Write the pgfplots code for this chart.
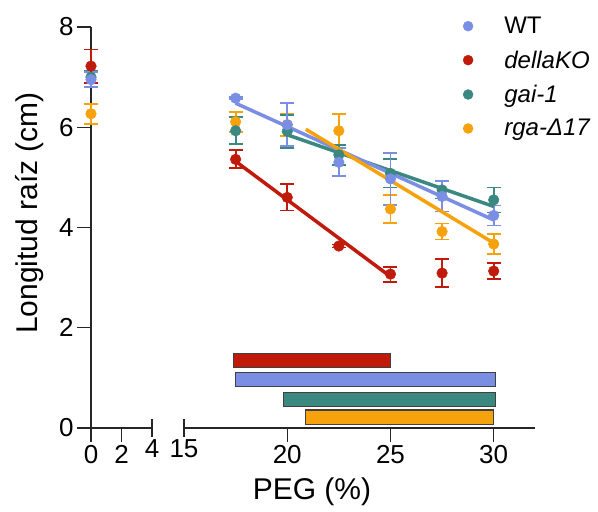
\documentclass[border=0pt]{standalone}
\usepackage{fontspec}
\setmainfont{Liberation Sans}
\usepackage{pgfplots}
\usepackage{pgfplotstable}
\pgfplotsset{compat=1.18}

\definecolor{wt}{RGB}{122,143,228}
\definecolor{ko}{RGB}{192,26,10}
\definecolor{gai}{RGB}{58,136,128}
\definecolor{rga}{RGB}{246,162,12}

% x = PEG (%), y = root length (cm), e = error
\pgfplotstableread{
x y e
0 6.95 0.15
}\wtzero
\pgfplotstableread{
x y e
0 7.22 0.33
}\kozero
\pgfplotstableread{
x y e
0 7.00 0.12
}\gaizero
\pgfplotstableread{
x y e
0 6.27 0.20
}\rgazero

\pgfplotstableread{
x y e
17.5 6.58 0.02
20 6.05 0.43
22.5 5.30 0.28
25 4.97 0.52
27.5 4.62 0.30
30 4.24 0.20
}\wtdata
\pgfplotstableread{
x y e
17.5 5.36 0.18
20 4.60 0.26
22.5 3.63 0.03
25 3.07 0.15
27.5 3.09 0.28
30 3.13 0.16
}\kodata
\pgfplotstableread{
x y e
17.5 5.93 0.27
20 5.92 0.33
22.5 5.45 0.20
25 5.08 0.28
27.5 4.75 0.17
30 4.55 0.25
}\gaidata
\pgfplotstableread{
x y e
17.5 6.11 0.20
20 6.05 0.22
22.5 5.93 0.34
25 4.37 0.28
27.5 3.92 0.16
30 3.67 0.20
}\rgadata

\pgfplotsset{
  pts/.style={only marks, mark=*, mark size=5.3pt, color=#1,
    mark options={fill=#1, draw=#1, line width=0.5pt},
    error bars/.cd, y dir=both, y explicit,
    error bar style={line width=1.8pt, #1},
    error mark=-,
    error mark options={rotate=90, draw=#1, mark size=7pt, line width=1.8pt}},
  fit/.style={#1, line width=3.5pt, no marks},
  bar/.style={fill=#1, draw=black!75, line width=1.2pt, no marks},
  legimg/.style={legend image code/.code={\path (-8pt,0pt) (34pt,0pt); \draw[##1] plot coordinates {(0pt,0pt)};}},
}

\begin{document}
\begin{tikzpicture}[font=\fontsize{26}{30}\selectfont]
\useasboundingbox (-91pt,-84pt) rectangle (507pt,428pt);

\begin{axis}[
  at={(0pt,0pt)}, anchor=south west,
  scale only axis, width=61pt, height=401pt,
  xmin=0, xmax=4, ymin=0, ymax=8,
  axis lines=left, axis line style={-, line width=1.2pt, black!85},
  xtick={0,2}, ytick={0,2,4,6,8},
  extra x ticks={4},
  extra x tick style={tick align=center, major tick length=17pt},
  tick align=outside, major tick length=14pt,
  tick style={line width=1.2pt, black!85},
  tick label style={font=\fontsize{26}{30}\selectfont},
  /pgf/number format/assume math mode=true,
  clip=false,
]
\addplot[pts=rga] table[x=x, y=y, y error=e] {\rgazero};
\addplot[pts=gai] table[x=x, y=y, y error=e] {\gaizero};
\addplot[pts=wt] table[x=x, y=y, y error=e] {\wtzero};
\addplot[pts=ko] table[x=x, y=y, y error=e] {\kozero};
\end{axis}

\begin{axis}[
  at={(93pt,0pt)}, anchor=south west,
  scale only axis, width=351pt, height=401pt,
  xmin=15, xmax=32, ymin=0, ymax=8,
  axis x line=bottom, axis y line=none,
  axis line style={-, line width=1.2pt, black!85},
  xtick={20,25,30},
  extra x ticks={15},
  extra x tick style={tick align=center, major tick length=17pt},
  tick align=outside, major tick length=14pt,
  tick style={line width=1.2pt, black!85},
  tick label style={font=\fontsize{26}{30}\selectfont},
  /pgf/number format/assume math mode=true,
  clip=false,
  legend style={draw=none, fill=none, at={(axis description cs:0.777,1.035)}, anchor=north west,
    font=\fontsize{24}{28}\selectfont, row sep=11.5pt},
  legend cell align=left,
]
\addlegendimage{only marks, mark=*, mark size=5pt, mark options={draw=wt, fill=wt}, legimg}
\addlegendimage{only marks, mark=*, mark size=5pt, mark options={draw=ko, fill=ko}, legimg}
\addlegendimage{only marks, mark=*, mark size=5pt, mark options={draw=gai, fill=gai}, legimg}
\addlegendimage{only marks, mark=*, mark size=5pt, mark options={draw=rga, fill=rga}, legimg}
\legend{WT, \textit{dellaKO}, \textit{gai-1}, \textit{rga-Δ17}}

% ranges of the fitted lines
\addplot[bar=ko] coordinates {(17.4,1.21) (25.0,1.21) (25.0,1.49) (17.4,1.49)} -- cycle;
\addplot[bar=wt] coordinates {(17.5,0.82) (30.1,0.82) (30.1,1.11) (17.5,1.11)} -- cycle;
\addplot[bar=gai] coordinates {(19.8,0.43) (30.1,0.43) (30.1,0.71) (19.8,0.71)} -- cycle;
\addplot[bar=rga] coordinates {(20.9,0.07) (30.0,0.07) (30.0,0.36) (20.9,0.36)} -- cycle;

\addplot[pts=rga] table[x=x, y=y, y error=e] {\rgadata};
\addplot[pts=gai] table[x=x, y=y, y error=e] {\gaidata};
\addplot[pts=wt] table[x=x, y=y, y error=e] {\wtdata};
\addplot[pts=ko] table[x=x, y=y, y error=e] {\kodata};

\addplot[fit=ko] coordinates {(17.5,5.32) (25,3.02)};
\addplot[fit=gai] coordinates {(20,5.85) (30,4.42)};
\addplot[fit=wt] coordinates {(17.5,6.48) (30,4.15)};
\addplot[fit=rga] coordinates {(20.9,5.96) (30,3.69)};
\end{axis}

\node[rotate=90, font=\fontsize{30}{34}\selectfont] at (-61pt,215pt) {Longitud raíz (cm)};
\node[font=\fontsize{30}{34}\selectfont] at (221pt,-64pt) {PEG (\%)};
\end{tikzpicture}
\end{document}
